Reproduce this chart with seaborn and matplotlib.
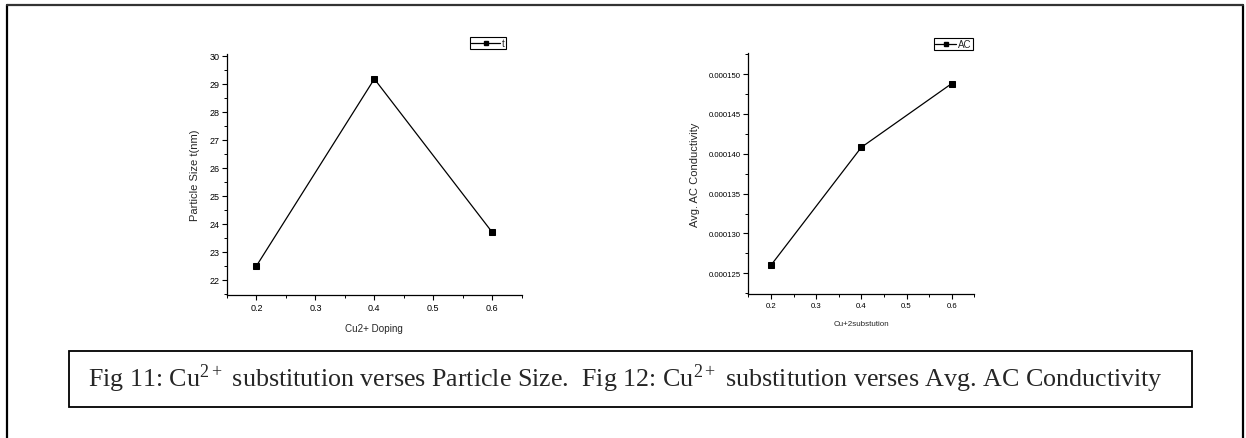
import numpy as np
import pandas as pd
import seaborn as sns
import matplotlib
matplotlib.use("Agg")
import matplotlib.pyplot as plt
from matplotlib.ticker import MultipleLocator, FormatStrFormatter
from matplotlib.lines import Line2D

# ---- data ----
doping = [0.2, 0.4, 0.6]
particle_size = [22.5, 29.18, 23.7]
ac_conductivity = [0.0001260, 0.0001408, 0.0001488]

left_xlabel = "Cu2+ Doping"
left_ylabel = "Particle Size t(nm)"
left_legend = "t"
right_xlabel = "Cu+2substution"
right_ylabel = "Avg. AC Conductivity"
right_legend = "AC"
caption = ("Fig 11: Cu$^{\\mathregular{2+}}$ substitution verses Particle Size.  "
           "Fig 12: Cu$^{\\mathregular{2+}}$ substitution verses Avg. AC Conductivity")

sns.set_style("ticks")
plt.rcParams['font.family'] = ['Liberation Sans', 'DejaVu Sans']
plt.rcParams['mathtext.fontset'] = 'stix'

W, H = 1246, 439
fig = plt.figure(figsize=(W / 100, H / 100), dpi=100)

def px(x0, y0, x1, y1):
    return [x0 / W, 1 - y1 / H, (x1 - x0) / W, (y1 - y0) / H]

ax1 = fig.add_axes(px(227, 55, 521.7, 296))
ax2 = fig.add_axes(px(748.3, 54.3, 974.3, 295))

df1 = pd.DataFrame({"x": doping, "y": particle_size})
df2 = pd.DataFrame({"x": doping, "y": ac_conductivity})

for ax, df in ((ax1, df1), (ax2, df2)):
    sns.lineplot(data=df, x="x", y="y", ax=ax, color="black", linewidth=0.9,
                 marker="s", markersize=3.8, markeredgecolor="black",
                 markerfacecolor="black")
    sns.despine(ax=ax)
    for s in ("left", "bottom"):
        ax.spines[s].set_linewidth(0.9)
        ax.spines[s].set_color("black")
    ax.tick_params(which="major", direction="out", length=3.5, width=0.8,
                   colors="black", labelsize=6.5, pad=2)
    ax.tick_params(which="minor", direction="out", length=2, width=0.7,
                   colors="black")
    ax.set_xlim(0.15, 0.65)
    ax.xaxis.set_major_locator(MultipleLocator(0.1))
    ax.xaxis.set_minor_locator(MultipleLocator(0.05))
    ax.xaxis.set_major_formatter(FormatStrFormatter("%.1f"))

ax1.set_ylim(21.46, 30.07)
ax1.yaxis.set_major_locator(MultipleLocator(1))
ax1.yaxis.set_minor_locator(MultipleLocator(0.5))
ax1.set_xlabel(left_xlabel, fontsize=7.1, labelpad=8)
ax1.set_ylabel(left_ylabel, fontsize=8, labelpad=7)

ax2.set_ylim(0.0001224, 0.0001526)
ax2.yaxis.set_major_locator(MultipleLocator(0.000005))
ax2.yaxis.set_minor_locator(MultipleLocator(0.0000025))
ax2.yaxis.set_major_formatter(FormatStrFormatter("%.6f"))
narrow = ['Liberation Sans Narrow', 'Liberation Sans', 'DejaVu Sans']
for lab in ax2.get_xticklabels() + ax2.get_yticklabels():
    lab.set_family(narrow)
    lab.set_fontsize(5.6)
ax2.set_xlabel(right_xlabel, fontsize=5.8, labelpad=8, family=narrow)
ax2.set_ylabel(right_ylabel, fontsize=8, labelpad=6)

def legend(ax, label, anchor, hl):
    h = Line2D([], [], color="black", linewidth=0.9, marker="s",
               markersize=3.5, markerfacecolor="black")
    lg = ax.legend([h], [label], loc="upper left", bbox_to_anchor=anchor,
                   bbox_transform=fig.transFigure, fontsize=7, frameon=True,
                   fancybox=False, handlelength=hl, handletextpad=0.2,
                   borderpad=0.1, borderaxespad=0, framealpha=1)
    lg.get_frame().set_edgecolor("black")
    lg.get_frame().set_linewidth(0.8)

legend(ax1, left_legend, (470 / W, 1 - 38 / H), 3.0)
legend(ax2, right_legend, (934 / W, 1 - 39 / H), 2.2)

# caption box
fig.add_artist(plt.Rectangle((69 / W, 1 - 407.7 / H), (1191.7 - 69) / W,
                             (407.7 - 352) / H, transform=fig.transFigure,
                             fill=False, edgecolor="black", linewidth=1.3))
fig.text(88 / W, 1 - 387 / H, caption, ha="left", va="baseline",
         fontsize=18.7, family=['Liberation Serif', 'DejaVu Serif'])

# page frame
fig.add_artist(Line2D([7 / W, 7 / W], [0, 1 - 6 / H], transform=fig.transFigure,
                      color="black", linewidth=1.6))
fig.add_artist(Line2D([1243 / W, 1243 / W], [0, 1 - 6 / H], transform=fig.transFigure,
                      color="black", linewidth=1.6))
fig.add_artist(Line2D([7 / W, 1243 / W], [1 - 6 / H, 1 - 6 / H], transform=fig.transFigure,
                      color="#333333", linewidth=1.6))

fig.savefig("out.png", dpi=100)
